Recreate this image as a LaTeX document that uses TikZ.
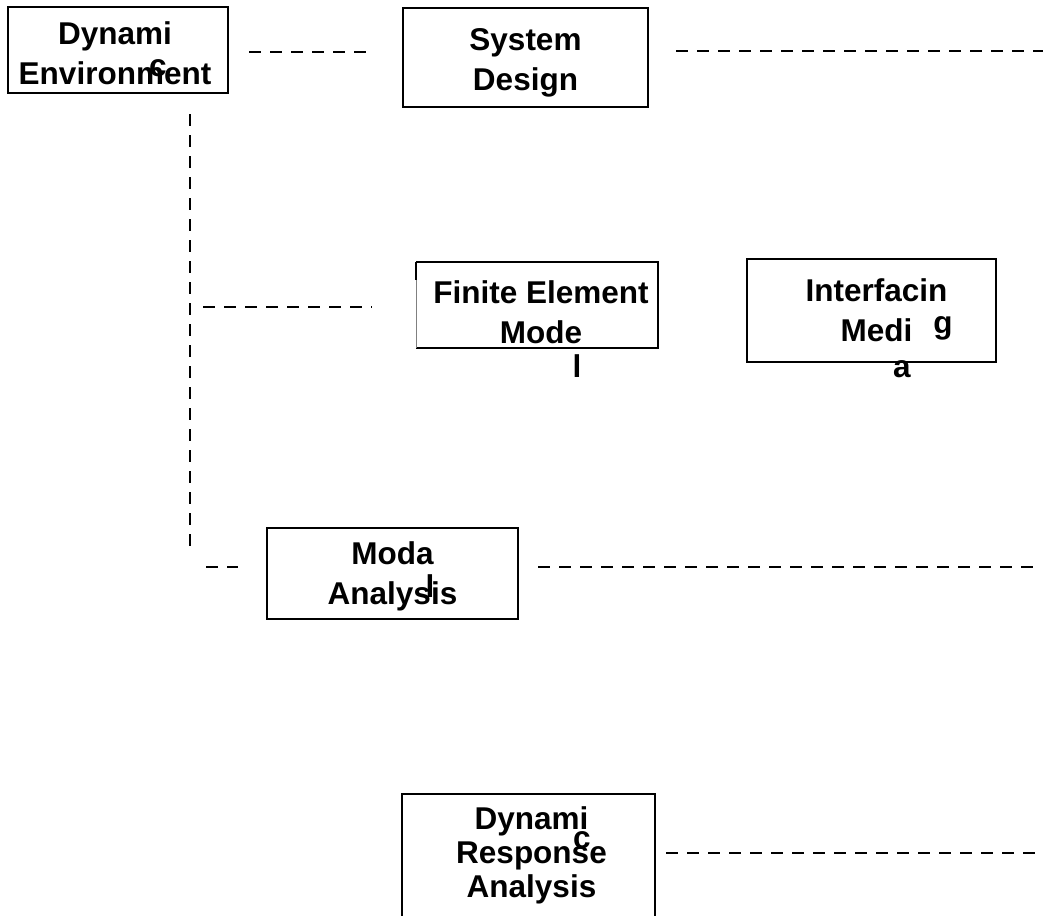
\documentclass[tikz,border=0pt]{standalone}
\usepackage{fontspec}
\setmainfont{Liberation Sans}

\begin{document}
\begin{tikzpicture}[
  x=1pt, y=-1pt,
  every node/.style={inner sep=0pt, font=\bfseries\fontsize{31.5}{40}\selectfont},
  box/.style={draw, line width=2pt},
  txt/.style={align=center},
  stray/.style={anchor=base},
  dline/.style={draw, line width=2pt, dash pattern=on 12pt off 9pt}]
  \clip (0,0) rectangle (1045,916);

  % boxes
  \node[box, minimum width=220pt, minimum height=86pt]  (env)   at (118,50)      {};
  \node[box, minimum width=245pt, minimum height=99pt]  (sys)   at (525.5,57.5)  {};
  \node[minimum width=242pt, minimum height=86pt]       (fem)   at (537,305)     {};
  \node[box, minimum width=249pt, minimum height=103pt] (intf)  at (871.5,310.5) {};
  \node[box, minimum width=251pt, minimum height=91pt]  (modal) at (392.5,573.5) {};
  \node[box, anchor=north, minimum width=253pt, minimum height=140pt] (resp) at (528.5,793) {};

  % the finite element box has a faint left side
  \draw[line width=2pt] (fem.north west) -- (fem.north east) -- (fem.south east) -- (fem.south west);
  \draw[line width=0.6pt, gray] (fem.south west) -- (fem.north west);
  \draw[line width=2pt] (fem.north west) -- ++(0,18);

  % box texts
  \node[txt] (env-t)   at ([shift={(-3,3)}]env.center)   {Dynami\\Environment};
  \node[txt] (sys-t)   at ([shift={(0,5)}]sys.center)    {System\\Design};
  \node[txt] (fem-t)   at ([shift={(4,7)}]fem.center)    {Finite Element\\Mode};
  \node[txt] (intf-t)  at ([shift={(5,0)}]intf.center)   {Interfacin\\Medi};
  \node[txt] (modal-t) at ([shift={(0,3)}]modal.center)  {Moda\\Analysis};
  \node[txt, anchor=north, font=\bfseries\fontsize{31.5}{34}\selectfont]
             (resp-t)  at ([shift={(3,13)}]resp.north)   {Dynami\\Response\\Analysis};

  % stray letters
  \node[stray] (envc) at (158,76)  {c};
  \node[stray] (feml) at (577,377) {l};
  \node[stray] (intg) at (943,333) {g};
  \node[stray] (inta) at (902,377) {a};
  \node[stray] (modl) at (430,597) {l};
  \node[stray] (resc) at (582,848) {c};

  % free ends
  \coordinate (rim1) at (1043,51);
  \coordinate (rim2) at (1035,567);
  \coordinate (rim3) at (1043,853);
  \coordinate (jfem) at (190,307);
  \coordinate (jmod) at (190,550);

  % dashed links
  \draw[dline] ([shift={(20,2)}]env.east) -- ([shift={(-30,-5.5)}]sys.west);
  \draw[dline] ([shift={(27,-6.5)}]sys.east) -- (rim1);
  \draw[dline] ([shift={(72,20)}]env.south) -- (jmod);
  \draw[dline] ([xshift=13]jfem) -- ([shift={(-44,2)}]fem.west);
  \draw[dline] ([shift={(16,17)}]jmod) -- ([shift={(-28,-6.5)}]modal.west);
  \draw[dline] ([shift={(19,-6.5)}]modal.east) -- (rim2);
  \draw[dline] ([shift={(10,60)}]resp.north east) -- (rim3);
\end{tikzpicture}
\end{document}
